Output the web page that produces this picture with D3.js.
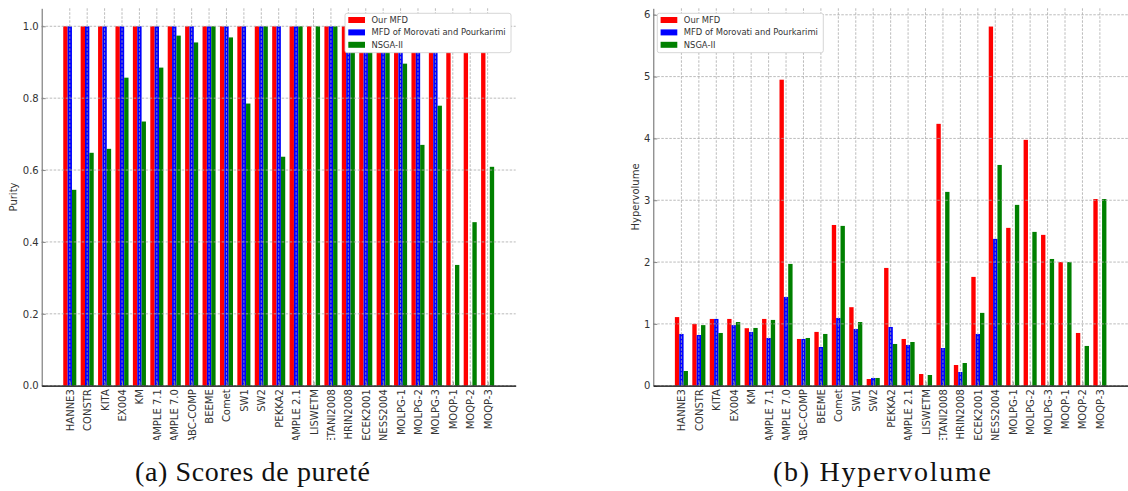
<!DOCTYPE html>
<html><head><meta charset="utf-8">
<script src="https://cdn.jsdelivr.net/npm/d3@7"></script>
<style>
html,body{margin:0;padding:0;background:#fff;}
svg{display:block;}
</style></head>
<body>
<svg id="chart" width="1128" height="491"></svg>
<script>
// ---- data ----
const categories = ["HANNE3","CONSTR","KITA","EX004","KM","EXAMPLE 7.1","EXAMPLE 7.0","ABC-COMP","BEEME","Comet","SW1","SW2","PEKKA2","EXAMPLE 2.1","LISWETM","METANI2008","SHRIN2008","WIECEK2001","HENNESS2004","MOLPG-1","MOLPG-2","MOLPG-3","MOQP-1","MOQP-2","MOQP-3"];
const seriesNames = ["Our MFD","MFD of Morovati and Pourkarimi","NSGA-II"];
const seriesColors = ["#ff0000","#0000ff","#008000"];

const purityOurMFD   = [1,1,1,1,1,1,1,1,1,1,1,1,1,1,1,1,1,1,1,1,1,1,1,1,1];
const purityMorovati = [1,1,1,1,1,1,1,1,1,1,1,1,1,1,0,1,1,1,1,1,1,1,0,0,0];
const purityNSGA     = [0.545,0.648,0.659,0.857,0.735,0.885,0.974,0.955,1.0,0.969,0.785,1.0,0.637,1.0,1.0,1.0,1.0,1.0,1.0,0.896,0.670,0.779,0.336,0.455,0.609];

const hvOurMFD   = [1.11,1.0,1.08,1.08,0.93,1.08,4.95,0.756,0.87,2.6,1.27,0.108,1.905,0.756,0.189,4.236,0.335,1.76,5.81,2.553,3.977,2.44,2.0,0.853,3.02];
const hvMorovati = [0.837,0.82,1.08,0.98,0.87,0.772,1.436,0.756,0.626,1.096,0.918,0.125,0.95,0.659,0,0.61,0.222,0.837,2.375,0,0,0,0,0,0];
const hvNSGA     = [0.238,0.98,0.853,1.03,0.934,1.064,1.97,0.772,0.837,2.585,1.03,0.125,0.675,0.707,0.173,3.135,0.367,1.178,3.571,2.925,2.488,2.05,2.0,0.643,3.02];

const purityTicks = [0,0.2,0.4,0.6,0.8,1.0];
const hvTicks = [0,1,2,3,4,5,6];
</script>
<script>
const svg = d3.select("#chart");
const FONT = "DejaVu Sans, sans-serif";

function drawPanel(opts){
  const {x0,x1,yTop,yBot,yMax,series,ticks,fmt,ylabel,ylabelX,legendX,legendW,caption,captionX,captionW,id} = opts;
  const n = categories.length;
  const x = d3.scaleLinear().domain([-1.6125, n - 1 + 1.6125]).range([x0,x1]);
  const y = d3.scaleLinear().domain([0,yMax]).range([yBot,yTop]);
  const g = svg.append("g");
  const bw = x(0.25)-x(0);

  // bars
  series.forEach((vals,s)=>{
    const off = (s-1)*0.25;
    g.append("g").selectAll("rect").data(vals.map((v,i)=>({v,i})).filter(d=>d.v>0))
      .join("rect")
      .attr("x", d=>x(d.i+off-0.125))
      .attr("width", bw)
      .attr("y", d=>y(d.v))
      .attr("height", d=>y(0)-y(d.v))
      .attr("fill", seriesColors[s]);
  });

  // grid on top
  const grid = g.append("g").attr("stroke","#aaaaaa").attr("stroke-width",0.8)
     .attr("stroke-dasharray","2.5,1.5").attr("fill","none");
  ticks.forEach(t=>{
    grid.append("line").attr("x1",x0).attr("x2",x1).attr("y1",y(t)).attr("y2",y(t));
  });
  d3.range(n).forEach(i=>{
    grid.append("line").attr("x1",x(i)).attr("x2",x(i)).attr("y1",yTop).attr("y2",yBot);
  });

  // y axis
  const ya = g.append("g").attr("transform",`translate(${x0},0)`)
    .call(d3.axisLeft(y).tickValues(ticks).tickFormat(fmt).tickSizeInner(-4).tickSizeOuter(0).tickPadding(3));
  ya.select(".domain").attr("stroke","#666");
  ya.selectAll(".tick line").attr("stroke","#888");
  ya.selectAll("text").attr("font-family",FONT).attr("font-size",10).attr("fill","#333");

  // x axis (labels clipped at y=440 like the reference)
  const clipId = "clip"+id;
  svg.append("clipPath").attr("id",clipId).append("rect")
     .attr("x",x0-30).attr("y",-yBot).attr("width",x1-x0+60).attr("height",440);
  const xa = g.append("g").attr("transform",`translate(0,${yBot})`).attr("clip-path",`url(#${clipId})`)
    .call(d3.axisBottom(x).tickValues(d3.range(n)).tickFormat(i=>categories[i]).tickSizeInner(-4).tickSizeOuter(0));
  xa.select(".domain").attr("stroke","#000").attr("stroke-width",1.3);
  xa.selectAll(".tick line").attr("stroke","#888");
  xa.selectAll("text")
    .attr("font-family",FONT).attr("font-size",10).attr("fill","#333")
    .attr("transform","rotate(-90)")
    .attr("x",-3.5).attr("y",0).attr("dy","0.35em")
    .attr("text-anchor","end");

  // y label
  g.append("text").attr("transform",`translate(${ylabelX},${(yTop+yBot)/2}) rotate(-90)`)
    .attr("text-anchor","middle").attr("dy","0.35em")
    .attr("font-family",FONT).attr("font-size",10).attr("fill","#333").text(ylabel);

  // legend
  const lg = g.append("g").attr("transform",`translate(${legendX},13.3)`);
  lg.append("rect").attr("width",legendW).attr("height",39.4).attr("rx",2)
    .attr("fill","#fff").attr("stroke","#cccccc").attr("stroke-width",0.8);
  seriesNames.forEach((name,s)=>{
    const cy = 6.7 + s*12.4;
    lg.append("rect").attr("x",3.3).attr("y",cy-3).attr("width",16.7).attr("height",6).attr("fill",seriesColors[s]);
    lg.append("text").attr("x",26.5).attr("y",cy).attr("dy","0.35em")
      .attr("font-family",FONT).attr("font-size",8.4).attr("fill","#333").text(name);
  });

  // caption
  svg.append("text").attr("x",captionX).attr("y",481).attr("text-anchor","middle")
    .attr("font-family","Liberation Serif, serif").attr("font-size",28).attr("fill","#111")
    .attr("textLength",captionW).attr("lengthAdjust","spacing").text(caption);
}

drawPanel({id:"a",x0:41.7,x1:515.7,yTop:8.3,yBot:385.7,yMax:1.05,
  series:[purityOurMFD,purityMorovati,purityNSGA],ticks:purityTicks,fmt:d3.format(".1f"),
  ylabel:"Purity",ylabelX:13.8,legendX:345,legendW:166,
  caption:"(a) Scores de pureté",captionX:252.5,captionW:235});
drawPanel({id:"b",x0:653.3,x1:1128,yTop:8.3,yBot:385.7,yMax:6.105,
  series:[hvOurMFD,hvMorovati,hvNSGA],ticks:hvTicks,fmt:d3.format("d"),
  ylabel:"Hypervolume",ylabelX:635,legendX:657.3,legendW:166,
  caption:"(b) Hypervolume",captionX:882,captionW:218});
</script>
</body></html>
